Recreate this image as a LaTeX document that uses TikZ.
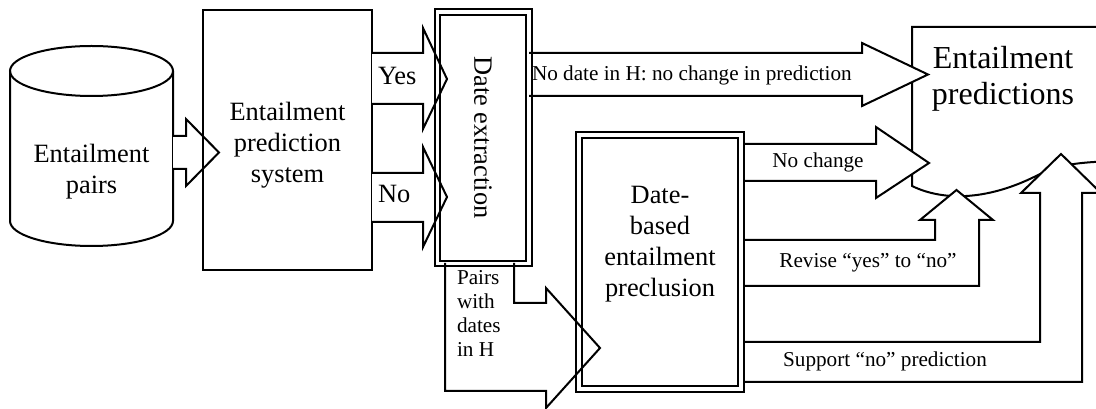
\documentclass[tikz,border=0pt]{standalone}
\usepackage{fontspec}
\setmainfont{Liberation Serif}
\begin{document}
\begin{tikzpicture}[x=0.75pt,y=-0.75pt,line width=1.5pt,
  mainf/.style={font=\fontsize{19.8}{23.25}\selectfont},
  smallf/.style={font=\fontsize{15.9}{18.2}\selectfont},
  bigf/.style={font=\fontsize{24}{27.3}\selectfont},
  box/.style={draw, rectangle, inner sep=0pt},
  barrow/.style={draw, fill=white, line join=miter, miter limit=10},
  txt/.style={inner sep=0pt, align=center},
  lbl/.style={inner sep=0pt}]
\useasboundingbox (0,0) rectangle (1096,409);
\clip (0,0) rectangle (1096,409);

% ---------- Entailment predictions (document shape) ----------
\coordinate (predTL) at (912,27);
\coordinate (predBL) at (912,186);
\draw (1120,27) -- (predTL) -- (predBL)
  .. controls (945,202) and (990,200) .. (1040,174)
  .. controls (1060,165) and (1075,162) .. (1120,161);
\node[txt, bigf] (predtxt) at (1003,79) {Entailment\\predictions};

% ---------- Preclusion box position (needed for arrows) ----------
\node[box, draw=none, minimum width=124.5pt, minimum height=193.5pt] (prec) at (660,262) {};

% ---------- Arrows into the predictions ----------
\node[box, draw=none, minimum width=67.5pt, minimum height=187.5pt] (dext) at (483,138) {};
\draw[barrow] (dext.east |- 0,53) -- (862,53) -- (862,43) -- (928,74.5) -- (862,106) -- (862,96) -- (dext.east |- 0,96);
\node[lbl, smallf, anchor=base west] (nodate) at (531,81) {No date in H: no change in prediction};

\draw[barrow] (prec.east |- 0,144) -- (876,144) -- (876,127) -- (929,163) -- (876,198) -- (876,181) -- (prec.east |- 0,181);
\node[lbl, smallf, anchor=base] (nochange) at (818,168) {No change};

\draw[barrow] (prec.east |- 0,240) -- (935,240) -- (935,220) -- (920,220) -- (956.5,190) -- (993,220) -- (979,220) -- (979,286) -- (prec.east |- 0,286);
\node[lbl, smallf, anchor=base] (revise) at (868,268) {Revise “yes” to “no”};

\draw[barrow] (prec.east |- 0,342) -- (1040,342) -- (1040,193) -- (1021,193) -- (1061,154) -- (1101,193) -- (1082,193) -- (1082,382) -- (prec.east |- 0,382);
\node[lbl, smallf, anchor=base] (support) at (885,367) {Support “no” prediction};

% ---------- Pairs with dates in H ----------
\draw[barrow] (445,263) -- (445,391) -- (546,391) -- (546,408) -- (600,348) -- (546,288) -- (546,303) -- (514,303) -- (514,263);
\node[lbl, smallf, align=left, anchor=west] (pairslbl) at (456,313.5) {Pairs\\with\\dates\\in H};

% ---------- Preclusion box ----------
\draw (prec.north west) rectangle (prec.south east);
\draw ([shift={(6,6)}]prec.north west) rectangle ([shift={(-6,-6)}]prec.south east);
\node[txt, mainf] (prectxt) at (660,244) {Date-\\based\\entailment\\preclusion};

% ---------- Entailment pairs (cylinder) ----------
\draw (10,71) -- (10,221) arc[start angle=180, end angle=360, x radius=61.125pt, y radius=18.75pt] -- (173,71);
\draw (91.5,71) ellipse [x radius=61.125pt, y radius=18.75pt];
\node[txt, mainf] (pairs) at (91.5,172) {Entailment\\pairs};
\coordinate (cylE) at (173,152.5);

% ---------- Entailment prediction system ----------
\node[box, draw=none, minimum width=125.25pt, minimum height=193.5pt] (sys) at (287.5,140) {};
\draw[barrow] (cylE |- 0,136) -- (186,136) -- (186,119) -- (219,152.5) -- (186,186) -- (186,169) -- (cylE |- 0,169);
\draw (sys.north west) rectangle (sys.south east);
\node[txt, mainf] (systxt) at (287.5,145) {Entailment\\prediction\\system};

% ---------- Yes / No arrows ----------
\draw[barrow] (sys.east |- 0,53) -- (423,53) -- (423,28) -- (447,79) -- (423,129) -- (423,104) -- (sys.east |- 0,104);
\node[lbl, mainf, anchor=base west] (yes) at (377,85) {Yes};
\draw[barrow] (sys.east |- 0,173) -- (423,173) -- (423,147) -- (447,197) -- (423,247) -- (423,222) -- (sys.east |- 0,222);
\node[lbl, mainf, anchor=base west] (no) at (377,203) {No};

% ---------- Date extraction box ----------
\draw ([shift={(-2.5,-2.5)}]dext.north west) rectangle ([shift={(2.5,2.5)}]dext.south east);
\draw ([shift={(3,3)}]dext.north west) rectangle ([shift={(-3,-3)}]dext.south east);
\node[txt, mainf, rotate=-90] (dexttxt) at (483,137.5) {Date extraction};
\end{tikzpicture}
\end{document}
